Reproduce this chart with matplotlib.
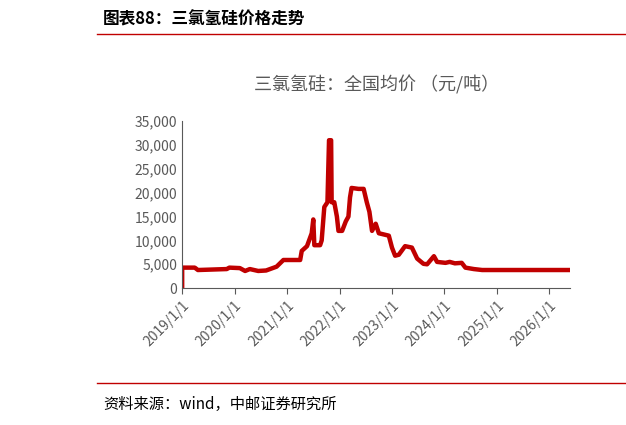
import matplotlib.pyplot as plt

plt.rcParams['font.family'] = ['Noto Sans CJK SC', 'DejaVu Sans']

# year (fractional) and price, yuan/ton
years = [2019.0, 2019.0, 2019.24, 2019.3, 2019.85, 2019.9, 2020.1, 2020.2, 2020.29, 2020.45,
         2020.6, 2020.8, 2020.93, 2021.25, 2021.28, 2021.38, 2021.47, 2021.5, 2021.52, 2021.63,
         2021.66, 2021.71, 2021.77, 2021.8, 2021.84, 2021.85, 2021.9, 2021.95, 2021.98, 2022.05,
         2022.12, 2022.17, 2022.2, 2022.23, 2022.36, 2022.46, 2022.52, 2022.57, 2022.62, 2022.69,
         2022.75, 2022.94, 2023.0, 2023.06, 2023.13, 2023.25, 2023.38, 2023.48, 2023.6, 2023.67,
         2023.8, 2023.86, 2024.02, 2024.1, 2024.2, 2024.33, 2024.4, 2024.56, 2024.72, 2026.4]
prices = [0, 4300, 4300, 3800, 4000, 4300, 4200, 3600, 4000, 3600,
          3700, 4500, 5900, 5900, 7800, 8800, 11500, 14400, 9000, 9000,
          10000, 17000, 18000, 31000, 31000, 18000, 18000, 15000, 12000, 12000,
          14000, 15000, 19000, 21000, 20800, 20800, 18000, 16000, 12000, 13500,
          11500, 11000, 8500, 6800, 7000, 8800, 8500, 6200, 5100, 5000,
          6700, 5500, 5300, 5500, 5200, 5300, 4300, 4000, 3800, 3800]
tick_years = list(range(2019, 2027))
tick_labels = [f'{y}/1/1' for y in tick_years]

fig = plt.figure(figsize=(6.26, 4.25), dpi=100)
fig.text(0.165, 0.955, '图表88：三氯氢硅价格走势', fontsize=12, fontweight='bold', va='center')
fig.add_artist(plt.Line2D([0.155, 1.0], [0.92, 0.92], color='#c00000', lw=1))
fig.add_artist(plt.Line2D([0.155, 1.0], [0.1, 0.1], color='#c00000', lw=1))
fig.text(0.165, 0.048, '资料来源：wind，中邮证券研究所', fontsize=11, va='center')

ax = fig.add_axes([0.291, 0.322, 0.62, 0.393])
ax.plot(years, prices, color='#c00000', lw=3.2)
ax.set_xlim(2019, 2026.4)
ax.set_ylim(0, 35000)
ax.set_yticks(range(0, 35001, 5000))
ax.set_yticklabels([f'{v:,}' for v in range(0, 35001, 5000)], color='#595959', fontsize=10)
ax.set_xticks(tick_years)
ax.set_xticklabels(tick_labels, rotation=45, ha='right', rotation_mode='anchor', color='#595959', fontsize=10)
for s in ['top', 'right']:
    ax.spines[s].set_visible(False)
for s in ['left', 'bottom']:
    ax.spines[s].set_color('#595959')
ax.tick_params(axis='y', length=0)
ax.tick_params(axis='x', length=4, color='#595959')
ax.set_title('三氯氢硅：全国均价 （元/吨）', color='#595959', fontsize=13, pad=22)

fig.savefig('out.png')
